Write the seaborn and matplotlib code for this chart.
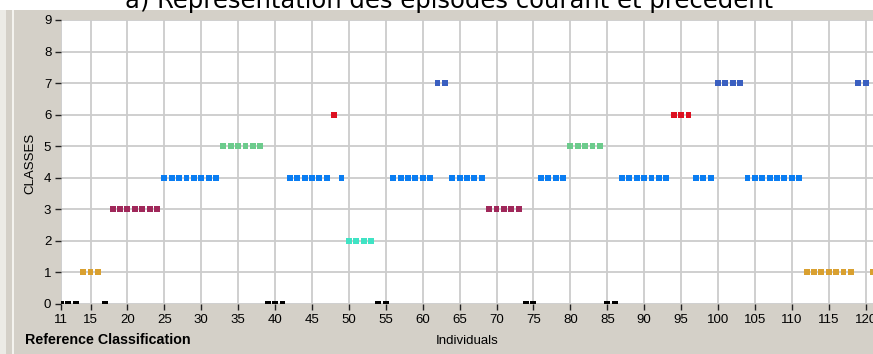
import matplotlib
matplotlib.use("Agg")
import matplotlib.pyplot as plt
import pandas as pd
import seaborn as sns
from matplotlib.patches import Rectangle

# Individuals 11..121 and the reference class assigned to each one
individuals = list(range(11, 122))
classes = [
    0, 0, 0, 1, 1, 1, 0,                 # 11-17
    3, 3, 3, 3, 3, 3, 3,                 # 18-24
    4, 4, 4, 4, 4, 4, 4, 4,              # 25-32
    5, 5, 5, 5, 5, 5,                    # 33-38
    0, 0, 0,                             # 39-41
    4, 4, 4, 4, 4, 4,                    # 42-47
    6, 4,                                # 48-49
    2, 2, 2, 2,                          # 50-53
    0, 0,                                # 54-55
    4, 4, 4, 4, 4, 4,                    # 56-61
    7, 7,                                # 62-63
    4, 4, 4, 4, 4,                       # 64-68
    3, 3, 3, 3, 3,                       # 69-73
    0, 0,                                # 74-75
    4, 4, 4, 4,                          # 76-79
    5, 5, 5, 5, 5,                       # 80-84
    0, 0,                                # 85-86
    4, 4, 4, 4, 4, 4, 4,                 # 87-93
    6, 6, 6,                             # 94-96
    4, 4, 4,                             # 97-99
    7, 7, 7, 7,                          # 100-103
    4, 4, 4, 4, 4, 4, 4, 4,              # 104-111
    1, 1, 1, 1, 1, 1, 1,                 # 112-118
    7, 7,                                # 119-120
    1,                                   # 121
]
x_ticks = [11, 15, 20, 25, 30, 35, 40, 45, 50, 55, 60, 65, 70, 75, 80, 85,
           90, 95, 100, 105, 110, 115, 120]
y_ticks = [0, 1, 2, 3, 4, 5, 6, 7, 8, 9]

class_colors = {
    0: "#000000",
    1: "#D9A030",
    2: "#3FE3C4",
    3: "#A0285A",
    4: "#0A7DF2",
    5: "#6CCB8C",
    6: "#DD1020",
    7: "#3A5FC0",
}

df = pd.DataFrame({"Individual": individuals, "Classe": classes})

W, H = 873, 354
PANEL = "#d4d0c8"
plt.rcParams["font.family"] = ["Liberation Sans", "DejaVu Sans"]

fig = plt.figure(figsize=(W / 100, H / 100), dpi=100, facecolor=PANEL)

# window-style frame: white caption strip on top, bevelled left edge
fig.patches.append(Rectangle((0, 1 - 10 / H), 1, 10 / H, transform=fig.transFigure,
                             facecolor="white", edgecolor="none", zorder=0))
fig.patches.append(Rectangle((0, 0), 6 / W, 1 - 10 / H, transform=fig.transFigure,
                             facecolor="#ecebe6", edgecolor="none", zorder=0))
fig.patches.append(Rectangle((12 / W, 0), 1.5 / W, 1 - 10 / H, transform=fig.transFigure,
                             facecolor="#f4f3ef", edgecolor="none", zorder=0))

left, right, top, bottom = 61, 873, 20, 304
ax = fig.add_axes([left / W, 1 - bottom / H, (right - left) / W, (bottom - top) / H])
ax.set_facecolor("white")

sns.scatterplot(data=df, x="Individual", y="Classe", hue="Classe",
                palette=class_colors, marker="s", s=18, linewidth=0,
                legend=False, ax=ax, zorder=3)

ax.set_xlim(11, 121)
ax.set_ylim(0, 9)
ax.set_xticks(x_ticks)
ax.set_yticks(y_ticks)
ax.set_axisbelow(True)
ax.grid(True, color="#cccccc", linewidth=1.3, linestyle="-")
for s in ax.spines.values():
    s.set_visible(False)
ax.tick_params(axis="x", length=4, width=1, pad=3, labelsize=9.5, color="#222222")
ax.tick_params(axis="y", length=4, width=1, pad=3, labelsize=9.5, color="#222222")
ax.set_xlabel("")
ax.set_ylabel("")

fig.text(449 / W, 1 - 8 / H, "a) Représentation des épisodes courant et précédent",
         ha="center", va="baseline", fontsize=17.5, family="DejaVu Sans", color="black")
fig.text(30 / W, 1 - 163 / H, "CLASSES", rotation=90, ha="center", va="center",
         fontsize=9.5)
fig.text(467 / W, 1 - 341 / H, "Individuals", ha="center", va="center", fontsize=9.5)
fig.text(25 / W, 1 - 340 / H, "Reference Classification", ha="left", va="center",
         fontsize=10.3, fontweight="bold")

fig.savefig("out.png", dpi=100, facecolor=fig.get_facecolor())
